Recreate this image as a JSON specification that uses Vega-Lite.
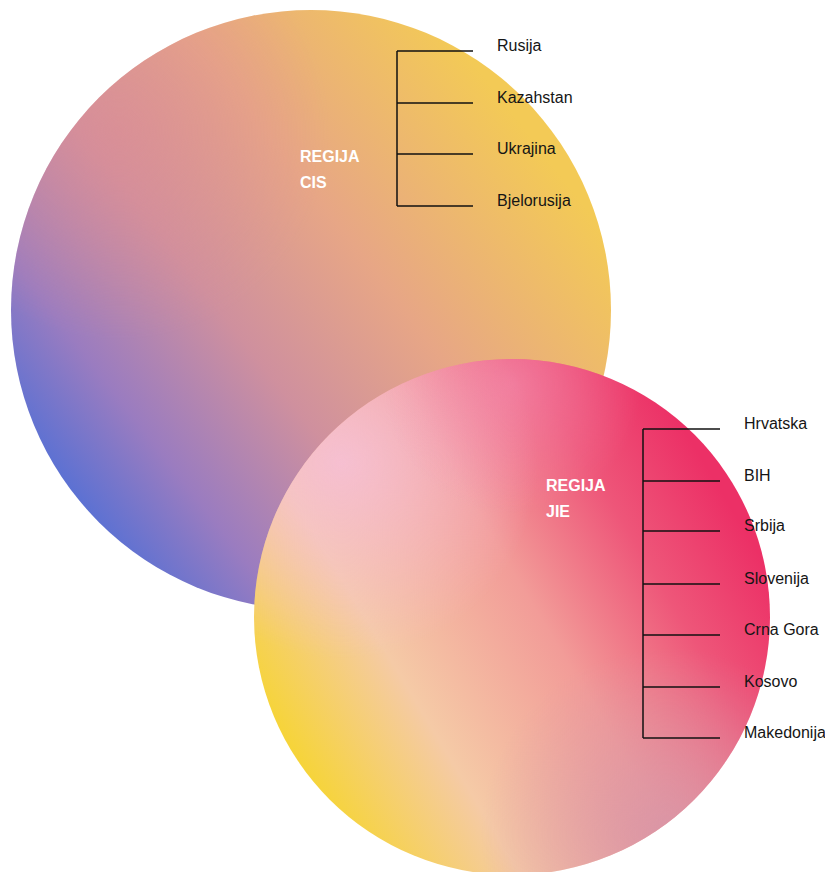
{
  "$schema": "https://vega.github.io/schema/vega-lite/v6.json",
  "width": 825,
  "height": 872,
  "padding": 0,
  "autosize": {"type": "none"},
  "background": "white",
  "config": {"view": {"stroke": null}},
  "datasets": {
    "circles": [
      {"id": "CIS", "cx": 311, "cy": 310, "r": 300},
      {"id": "JIE", "cx": 512, "cy": 617, "r": 258}
    ],
    "regions": [
      {"id": "CIS", "line1": "REGIJA", "line2": "CIS", "lx": 300, "ly1": 157, "ly2": 183, "bx": 397, "top": 51, "bottom": 206},
      {"id": "JIE", "line1": "REGIJA", "line2": "JIE", "lx": 546, "ly1": 486, "ly2": 512, "bx": 643, "top": 429, "bottom": 738}
    ],
    "countries": [
      {"region": "CIS", "country": "Rusija", "bx": 397, "tx": 473, "y": 51},
      {"region": "CIS", "country": "Kazahstan", "bx": 397, "tx": 473, "y": 103},
      {"region": "CIS", "country": "Ukrajina", "bx": 397, "tx": 473, "y": 154},
      {"region": "CIS", "country": "Bjelorusija", "bx": 397, "tx": 473, "y": 206},
      {"region": "JIE", "country": "Hrvatska", "bx": 643, "tx": 720, "y": 429},
      {"region": "JIE", "country": "BIH", "bx": 643, "tx": 720, "y": 481},
      {"region": "JIE", "country": "Srbija", "bx": 643, "tx": 720, "y": 531},
      {"region": "JIE", "country": "Slovenija", "bx": 643, "tx": 720, "y": 584},
      {"region": "JIE", "country": "Crna Gora", "bx": 643, "tx": 720, "y": 635},
      {"region": "JIE", "country": "Kosovo", "bx": 643, "tx": 720, "y": 687},
      {"region": "JIE", "country": "Makedonija", "bx": 643, "tx": 720, "y": 738}
    ]
  },
  "resolve": {"scale": {"x": "shared", "y": "shared"}},
  "layer": [
    {
      "data": {"name": "circles"},
      "transform": [{"filter": "datum.id === 'CIS'"}],
      "mark": {
        "type": "point", "shape": "circle", "filled": true, "opacity": 1, "strokeWidth": 0,
        "fill": {"gradient": "linear", "x1": 0.12, "y1": 0.9, "x2": 0.92, "y2": 0.28,
          "stops": [
            {"offset": 0, "color": "#4a6ed8"},
            {"offset": 0.2, "color": "#9a7cc0"},
            {"offset": 0.42, "color": "#cf909e"},
            {"offset": 0.66, "color": "#e7a686"},
            {"offset": 1, "color": "#f3ca56"}
          ]}
      },
      "encoding": {
        "x": {"field": "cx", "type": "quantitative", "scale": {"domain": [0, 825], "nice": false, "zero": false}, "axis": null},
        "y": {"field": "cy", "type": "quantitative", "scale": {"domain": [0, 872], "nice": false, "zero": false, "reverse": true}, "axis": null},
        "size": {"field": "r", "type": "quantitative", "scale": {"type": "pow", "exponent": 2, "domain": [0, 300], "range": [0, 360000], "nice": false}, "legend": null}
      }
    },
    {
      "data": {"name": "circles"},
      "transform": [{"filter": "datum.id === 'CIS'"}],
      "mark": {
        "type": "point", "shape": "circle", "filled": true, "opacity": 1, "strokeWidth": 0,
        "fill": {"gradient": "radial", "x1": 0.18, "y1": 0.2, "r1": 0, "x2": 0.18, "y2": 0.2, "r2": 0.35,
          "stops": [
            {"offset": 0, "color": "rgba(222,140,148,0.55)"},
            {"offset": 1, "color": "rgba(222,140,148,0)"}
          ]}
      },
      "encoding": {
        "x": {"field": "cx", "type": "quantitative"},
        "y": {"field": "cy", "type": "quantitative"},
        "size": {"field": "r", "type": "quantitative"}
      }
    },
    {
      "data": {"name": "circles"},
      "transform": [{"filter": "datum.id === 'JIE'"}],
      "mark": {
        "type": "point", "shape": "circle", "filled": true, "opacity": 1, "strokeWidth": 0,
        "fill": {"gradient": "linear", "x1": 0.15, "y1": 0.88, "x2": 0.98, "y2": 0.38,
          "stops": [
            {"offset": 0, "color": "#f6d43a"},
            {"offset": 0.26, "color": "#f5caa6"},
            {"offset": 0.56, "color": "#f29c98"},
            {"offset": 0.8, "color": "#ee5679"},
            {"offset": 1, "color": "#ec3066"}
          ]}
      },
      "encoding": {
        "x": {"field": "cx", "type": "quantitative"},
        "y": {"field": "cy", "type": "quantitative"},
        "size": {"field": "r", "type": "quantitative"}
      }
    },
    {
      "data": {"name": "circles"},
      "transform": [{"filter": "datum.id === 'JIE'"}],
      "mark": {
        "type": "point", "shape": "circle", "filled": true, "opacity": 1, "strokeWidth": 0,
        "fill": {"gradient": "radial", "x1": 0.17, "y1": 0.2, "r1": 0, "x2": 0.17, "y2": 0.2, "r2": 0.38,
          "stops": [
            {"offset": 0, "color": "rgba(246,192,214,0.9)"},
            {"offset": 1, "color": "rgba(246,192,214,0)"}
          ]}
      },
      "encoding": {
        "x": {"field": "cx", "type": "quantitative"},
        "y": {"field": "cy", "type": "quantitative"},
        "size": {"field": "r", "type": "quantitative"}
      }
    },
    {
      "data": {"name": "circles"},
      "transform": [{"filter": "datum.id === 'JIE'"}],
      "mark": {
        "type": "point", "shape": "circle", "filled": true, "opacity": 1, "strokeWidth": 0,
        "fill": {"gradient": "radial", "x1": 0.5, "y1": 0.05, "r1": 0, "x2": 0.5, "y2": 0.05, "r2": 0.25,
          "stops": [
            {"offset": 0, "color": "rgba(243,140,176,0.6)"},
            {"offset": 1, "color": "rgba(243,140,176,0)"}
          ]}
      },
      "encoding": {
        "x": {"field": "cx", "type": "quantitative"},
        "y": {"field": "cy", "type": "quantitative"},
        "size": {"field": "r", "type": "quantitative"}
      }
    },
    {
      "data": {"name": "circles"},
      "transform": [{"filter": "datum.id === 'JIE'"}],
      "mark": {
        "type": "point", "shape": "circle", "filled": true, "opacity": 1, "strokeWidth": 0,
        "fill": {"gradient": "radial", "x1": 0.8, "y1": 0.92, "r1": 0, "x2": 0.8, "y2": 0.92, "r2": 0.36,
          "stops": [
            {"offset": 0, "color": "rgba(214,148,168,0.85)"},
            {"offset": 1, "color": "rgba(214,148,168,0)"}
          ]}
      },
      "encoding": {
        "x": {"field": "cx", "type": "quantitative"},
        "y": {"field": "cy", "type": "quantitative"},
        "size": {"field": "r", "type": "quantitative"}
      }
    },
    {
      "data": {"name": "regions"},
      "mark": {"type": "rule", "color": "#111111", "strokeWidth": 1.5},
      "encoding": {
        "x": {"field": "bx", "type": "quantitative"},
        "y": {"field": "top", "type": "quantitative"},
        "y2": {"field": "bottom"}
      }
    },
    {
      "data": {"name": "countries"},
      "mark": {"type": "rule", "color": "#111111", "strokeWidth": 1.5},
      "encoding": {
        "x": {"field": "bx", "type": "quantitative"},
        "x2": {"field": "tx"},
        "y": {"field": "y", "type": "quantitative"}
      }
    },
    {
      "data": {"name": "countries"},
      "mark": {"type": "text", "align": "left", "baseline": "middle", "dx": 24, "dy": -5, "font": "Liberation Sans", "fontSize": 16, "color": "#151515"},
      "encoding": {
        "x": {"field": "tx", "type": "quantitative"},
        "y": {"field": "y", "type": "quantitative"},
        "text": {"field": "country"}
      }
    },
    {
      "data": {"name": "regions"},
      "mark": {"type": "text", "align": "left", "baseline": "middle", "font": "Liberation Sans", "fontSize": 16, "fontWeight": "bold", "color": "white"},
      "encoding": {
        "x": {"field": "lx", "type": "quantitative"},
        "y": {"field": "ly1", "type": "quantitative"},
        "text": {"field": "line1"}
      }
    },
    {
      "data": {"name": "regions"},
      "mark": {"type": "text", "align": "left", "baseline": "middle", "font": "Liberation Sans", "fontSize": 16, "fontWeight": "bold", "color": "white"},
      "encoding": {
        "x": {"field": "lx", "type": "quantitative"},
        "y": {"field": "ly2", "type": "quantitative"},
        "text": {"field": "line2"}
      }
    }
  ]
}
